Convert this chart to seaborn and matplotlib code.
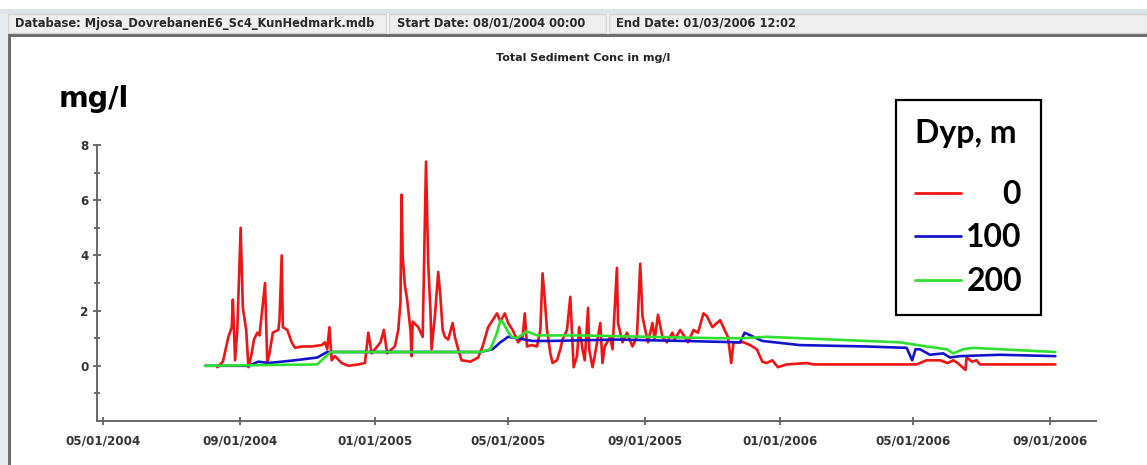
import numpy as np
import pandas as pd
import matplotlib
matplotlib.use("Agg")
import matplotlib.pyplot as plt
import matplotlib.dates as mdates
from matplotlib.patches import Rectangle
from matplotlib.lines import Line2D
import seaborn as sns

# ---------------- data (days since 2004-05-01, concentration mg/l) ----------------
ORIGIN = "2004-05-01"

red_day = [103, 108, 113, 116, 117, 119, 121, 124, 126, 129, 131, 134, 136, 139, 141, 146, 148, 150,
           153, 158, 159, 161, 162, 166, 170, 173, 179, 188, 197, 200, 202, 204, 206, 209, 215, 221,
           230, 236, 239, 242, 247, 250, 253, 256, 260, 263, 266, 268, 269, 270, 272, 274, 277, 278,
           279, 284, 288, 291, 293, 295, 296, 299, 302, 304, 306, 308, 311, 315, 317, 320, 323, 331,
           338, 342, 347, 351, 355, 358, 362, 365, 369, 374, 378, 380, 382, 386, 391, 394, 396, 398,
           400, 403, 405, 409, 412, 414, 418, 421, 423, 424, 427, 429, 432, 434, 437, 438, 441, 443,
           448, 450, 452, 457, 459, 463, 464, 468, 472, 477, 481, 484, 486, 488, 491, 495, 497, 500,
           504, 508, 513, 515, 520, 524, 527, 532, 536, 541, 544, 549, 553, 556, 560, 563, 566, 568,
           577, 583, 589, 594, 598, 603, 608, 616, 634, 640, 733, 742, 754, 761, 766, 770, 777, 778,
           783, 787, 790, 858]
red_val = [-0.05, 0.15, 1.05, 1.4, 2.4, 0.2, 1.3, 5.0, 2.1, 1.3, -0.05, 0.45, 0.95, 1.2, 1.1, 3.0, 0.1, 0.45,
           1.2, 1.3, 1.65, 4.0, 1.4, 1.3, 0.85, 0.65, 0.7, 0.7, 0.75, 0.85, 0.6, 1.4, 0.2, 0.35, 0.1, 0.0,
           0.05, 0.1, 1.2, 0.45, 0.7, 0.85, 1.3, 0.45, 0.6, 0.7, 1.3, 2.3, 6.2, 3.95, 2.9, 2.4, 1.3, 0.35,
           1.6, 1.4, 1.05, 7.4, 3.7, 2.0, 0.6, 1.8, 3.4, 2.5, 1.3, 1.05, 0.95, 1.55, 1.05, 0.6, 0.2, 0.15,
           0.3, 0.7, 1.4, 1.65, 1.9, 1.6, 1.9, 1.55, 1.3, 0.85, 1.05, 1.9, 0.7, 0.75, 0.7, 1.3, 3.35, 2.4,
           1.3, 0.45, 0.1, 0.2, 0.6, 0.95, 1.3, 2.5, 0.85, -0.05, 0.35, 1.4, 0.6, 0.2, 2.1, 0.6, -0.05, 0.35,
           1.55, 0.1, 0.7, 1.05, 0.6, 3.55, 1.55, 0.85, 1.2, 0.7, 1.05, 3.7, 1.8, 1.4, 0.85, 1.55, 0.95, 1.85,
           1.05, 0.85, 1.2, 0.95, 1.3, 1.05, 0.85, 1.3, 1.2, 1.9, 1.8, 1.4, 1.55, 1.65, 1.3, 1.05, 0.1, 0.85,
           0.85, 0.75, 0.6, 0.15, 0.1, 0.2, -0.05, 0.05, 0.1, 0.05, 0.05, 0.2, 0.2, 0.1, 0.2, 0.1, -0.15, 0.3,
           0.15, 0.2, 0.05, 0.05]

blue_day = [92, 131, 140, 149, 173, 193, 202, 340, 351, 358, 365, 373, 387, 403, 463, 523, 574, 578,
            586, 594, 628, 688, 724, 729, 732, 736, 745, 757, 763, 772, 808, 858]
blue_val = [0.0, 0.0, 0.15, 0.1, 0.2, 0.3, 0.5, 0.5, 0.6, 0.85, 1.05, 1.0, 0.9, 0.9, 0.95, 0.9, 0.85, 1.2,
            1.05, 0.9, 0.75, 0.7, 0.65, 0.2, 0.6, 0.6, 0.4, 0.45, 0.3, 0.35, 0.4, 0.35]

green_day = [92, 193, 205, 340, 349, 355, 358, 360, 364, 368, 373, 382, 391, 432, 493, 553, 577, 598,
             658, 718, 742, 760, 766, 775, 784, 858]
green_val = [0.0, 0.05, 0.5, 0.5, 0.6, 1.2, 1.65, 1.6, 1.3, 1.05, 1.0, 1.25, 1.1, 1.1, 1.05, 1.0, 1.0, 1.05,
             0.95, 0.85, 0.7, 0.6, 0.45, 0.6, 0.65, 0.5]

depths = ["0", "100", "200"]
colors = ["#f01414", "#1414cc", "#2fe02f"]

xtick_dates = ["2004-05-01", "2004-09-01", "2005-01-01", "2005-05-01",
               "2005-09-01", "2006-01-01", "2006-05-01", "2006-09-01"]
yticks_major = [0, 2, 4, 6, 8]
yticks_minor = [-1, 1, 3, 5, 7]

header_texts = ["Database: Mjosa_DovrebanenE6_Sc4_KunHedmark.mdb",
                "Start Date: 08/01/2004 00:00",
                "End Date: 01/03/2006 12:02"]
chart_title = "Total Sediment Conc in mg/l"
unit_label = "mg/l"
legend_title = "Dyp, m"

# ---------------- build table ----------------
origin = pd.Timestamp(ORIGIN)
frames = []
for d, days, vals in zip(depths, [red_day, blue_day, green_day], [red_val, blue_val, green_val]):
    frames.append(pd.DataFrame({
        "date": origin + pd.to_timedelta(days, unit="D"),
        "conc": vals,
        "Dyp": d,
    }))
df = pd.concat(frames, ignore_index=True)

# ---------------- figure ----------------
sns.set_style("white")
plt.rcParams["font.family"] = ["DejaVu Sans"]
plt.rcParams["text.color"] = "black"

W, H = 1147, 465
fig = plt.figure(figsize=(W / 100, H / 100), dpi=100)


def fx(px):
    return px / W


def fy(py):
    return 1 - py / H


# header strip
fig.patches.append(Rectangle((fx(0), fy(14)), 1, fy(9) - fy(14), transform=fig.transFigure,
                             facecolor="#dde3ea", edgecolor="none", zorder=0))
for x0, x1 in [(8, 386), (389, 606), (609, 1147)]:
    fig.patches.append(Rectangle((fx(x0), fy(33)), fx(x1 - x0), fy(14) - fy(33),
                                 transform=fig.transFigure, facecolor="#efefef",
                                 edgecolor="#d4d4d4", linewidth=1, zorder=0))
fig.patches.append(Rectangle((fx(8), fy(37)), 1, fy(34) - fy(37), transform=fig.transFigure,
                             facecolor="#6e6e6e", edgecolor="none", zorder=0))
fig.patches.append(Rectangle((fx(8), fy(465)), fx(3), fy(34) - fy(465), transform=fig.transFigure,
                             facecolor="#6e6e6e", edgecolor="none", zorder=0))
fig.patches.append(Rectangle((fx(0), fy(465)), fx(8), fy(14) - fy(465), transform=fig.transFigure,
                             facecolor="#e6ebf1", edgecolor="none", zorder=0))

for txt, xp in zip(header_texts, [15, 397, 616]):
    fig.text(fx(xp), fy(27), txt, fontsize=8.3, fontweight="bold", color="#2a2a2a",
             va="baseline", ha="left")

fig.text(fx(583), fy(61), chart_title, fontsize=8.0, fontweight="bold", color="#222222",
         ha="center", va="baseline")
fig.text(fx(59), fy(107), unit_label, fontsize=20.5, fontweight="bold", color="black",
         ha="left", va="baseline", family=["DejaVu Sans"])

ax = fig.add_axes([fx(97), fy(421), fx(1096 - 97), fy(145) - fy(421)])
ax.set_facecolor("none")

plot_order = ["0", "100", "200"]
sns.lineplot(data=df, x="date", y="conc", hue="Dyp", hue_order=plot_order,
             palette=dict(zip(depths, colors)), estimator=None, sort=True,
             linewidth=1.9, ax=ax, legend=False)

ax.set_xlim(origin - pd.Timedelta(days=5.4), origin + pd.Timedelta(days=894.6))
ax.set_ylim(-2, 8)
ax.set_xlabel("")
ax.set_ylabel("")

ax.set_xticks(pd.to_datetime(xtick_dates))
ax.xaxis.set_major_formatter(mdates.DateFormatter("%m/%d/%Y"))
ax.set_yticks(yticks_major)
ax.set_yticks(yticks_minor, minor=True)

for s in ["top", "right"]:
    ax.spines[s].set_visible(False)
for s in ["left", "bottom"]:
    ax.spines[s].set_color("#666666")
    ax.spines[s].set_linewidth(1.4)

ax.tick_params(axis="both", which="both", direction="inout", color="#555555", width=1.2,
               bottom=True, left=True)
ax.tick_params(axis="x", which="major", length=6, pad=7, labelsize=8.6, labelcolor="#333333")
ax.tick_params(axis="y", which="major", length=6, pad=3, labelsize=8.6, labelcolor="#333333")
ax.tick_params(axis="y", which="minor", length=4)
for lab in ax.get_xticklabels() + ax.get_yticklabels():
    lab.set_fontweight("bold")

# legend
fs = 23
handles = [Line2D([], [], color=c, lw=2.0) for c in colors]
labels = ["\u2007\u20070", "100", "200"]
leg = ax.legend(handles, labels, title=legend_title, loc="upper left",
                bbox_to_anchor=(fx(896), fy(100)), bbox_transform=fig.transFigure,
                frameon=True, fancybox=False, framealpha=1, edgecolor="black",
                prop={"family": ["Lato", "DejaVu Sans"], "weight": "bold", "size": fs},
                title_fontproperties={"family": ["Lato", "DejaVu Sans"], "weight": "bold", "size": fs},
                alignment="left", handlelength=1.45, handletextpad=0.15,
                labelspacing=0.45, borderpad=0.6, borderaxespad=0)
leg.get_frame().set_linewidth(1.6)
for t in leg.get_texts():
    t.set_color("black")
leg.get_title().set_color("black")
leg._legend_box.sep = 23

fig.savefig("out.png", dpi=100)
